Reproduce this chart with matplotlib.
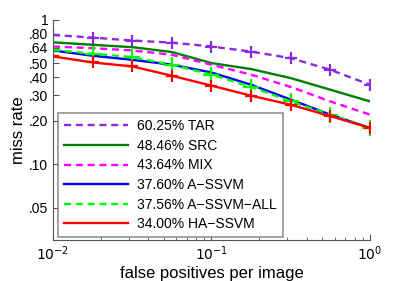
import matplotlib
matplotlib.use("Agg")
import matplotlib.pyplot as plt
from matplotlib.ticker import FixedLocator, NullFormatter

plt.rcParams['font.family'] = ['Liberation Sans', 'DejaVu Sans']

fppi = [0.01, 0.0178, 0.0316, 0.0562, 0.1, 0.178, 0.316, 0.562, 1.0]

tar = [0.788, 0.755, 0.72, 0.697, 0.655, 0.604, 0.544, 0.452, 0.356]
src = [0.70, 0.673, 0.648, 0.60, 0.503, 0.457, 0.396, 0.329, 0.273]
mix = [0.655, 0.638, 0.615, 0.574, 0.49, 0.418, 0.344, 0.273, 0.221]
assvm = [0.615, 0.565, 0.53, 0.49, 0.433, 0.356, 0.281, 0.221, 0.179]
assvm_all = [0.62, 0.585, 0.553, 0.49, 0.418, 0.344, 0.273, 0.221, 0.179]
hassvm = [0.559, 0.508, 0.477, 0.411, 0.351, 0.299, 0.259, 0.216, 0.179]

labels = ["60.25% TAR", "48.46% SRC", "43.64% MIX", "37.60% A\u2212SSVM",
          "37.56% A\u2212SSVM\u2212ALL", "34.00% HA\u2212SSVM"]

ytick_vals = [0.05, 0.10, 0.20, 0.30, 0.40, 0.50, 0.64, 0.80, 1.0]
ytick_labels = [".05", ".10", ".20", ".30", ".40", ".50", ".64", ".80", "1"]

fig = plt.figure(figsize=(4.09, 2.81), dpi=100)
ax = fig.add_axes([0.1296, 0.146, 0.775, 0.783])

lw = 1.7
ax.plot(fppi, tar, color='#8a2be2', ls=(0, (3, 2)), lw=lw, marker='+', ms=9, mew=1.6, label=labels[0])
ax.plot(fppi, src, color='#008000', ls='-', lw=lw, label=labels[1])
ax.plot(fppi, mix, color='#ff00ff', ls=(0, (3, 2)), lw=lw, label=labels[2])
ax.plot(fppi, assvm, color='#0000ff', ls='-', lw=lw, label=labels[3])
ax.plot(fppi, assvm_all, color='#00ff00', ls=(0, (3, 2)), lw=lw, marker='+', ms=12, mew=1.6, label=labels[4])
ax.plot(fppi, hassvm, color='#ff0000', ls='-', lw=lw, marker='+', ms=9, mew=1.6, label=labels[5])

ax.set_xscale('log')
ax.set_yscale('log')
ax.set_xlim(0.01, 1.0)
ax.set_ylim(0.03, 1.0)
ax.yaxis.set_major_locator(FixedLocator(ytick_vals))
ax.set_yticklabels(ytick_labels)
ax.yaxis.set_minor_formatter(NullFormatter())
ax.yaxis.set_minor_locator(FixedLocator([]))
ax.set_xticks([0.01, 0.1, 1.0])
ax.set_xticklabels([r'$10^{-2}$', r'$10^{-1}$', r'$10^{0}$'])

for s in ['top', 'right']:
    ax.spines[s].set_visible(False)
for s in ['left', 'bottom']:
    ax.spines[s].set_color('#555555')
    ax.spines[s].set_linewidth(0.8)
ax.tick_params(which='both', direction='in', colors='#555555', labelcolor='black', labelsize=10)
ax.tick_params(which='major', length=4)
ax.tick_params(which='minor', length=2)

ax.set_xlabel('false positives per image', fontsize=12, labelpad=2)
ax.set_ylabel('miss rate', fontsize=12, labelpad=2)

leg = ax.legend(loc='lower left', bbox_to_anchor=(0.016, 0.012), fontsize=10, frameon=True,
                fancybox=False, edgecolor='#777777', handlelength=4.6, labelspacing=0.4,
                borderpad=0.45, handletextpad=0.6, borderaxespad=0)
leg.get_frame().set_linewidth(1.2)
for h in leg.legend_handles:
    h.set_marker('')

fig.savefig('out.png', dpi=100)
